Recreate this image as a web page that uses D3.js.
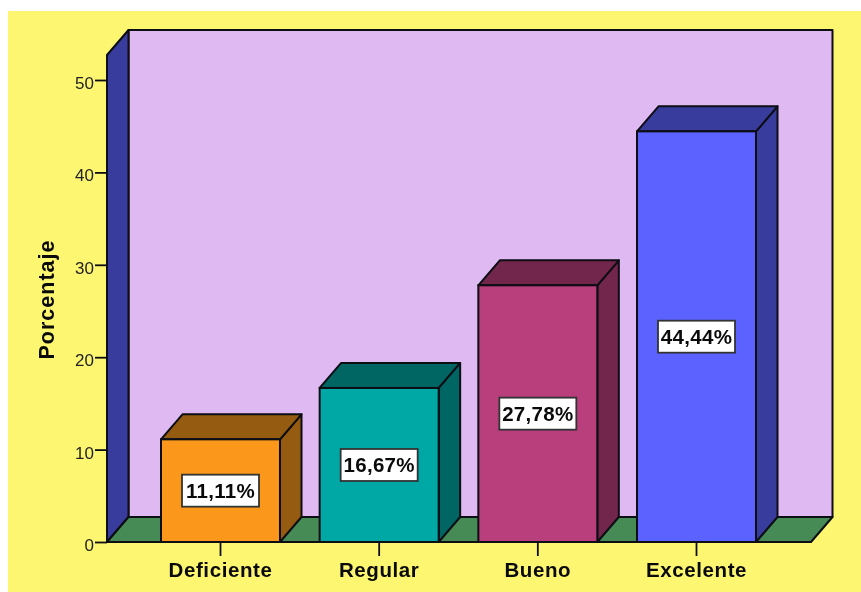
<!DOCTYPE html>
<html><head><meta charset="utf-8">
<script src="https://cdn.jsdelivr.net/npm/d3@7"></script>
<style>html,body{margin:0;padding:0;background:#fff}svg{display:block;filter:blur(0.5px)}text{font-family:"Liberation Sans",Arial,sans-serif}</style>
</head><body><svg id="c" width="861" height="592"></svg>
<script>
const categories = ["Deficiente","Regular","Bueno","Excelente"];
const values = [11.11,16.67,27.78,44.44];
const valueLabels = ["11,11%","16,67%","27,78%","44,44%"];
const frontColors = ["#fb981b","#00a8a5","#b83e7c","#5c62ff"];
const sideColors = ["#955c11","#006663","#72264c","#383c9c"];
const yTicks = [0,10,20,30,40,50];
const svg = d3.select("#c");
const W=861,H=592, dx=21.5, dy=25;
const y = d3.scaleLinear().domain([0,50]).range([542,80]);
const x = d3.scaleBand().domain(categories).range([161,756]).paddingInner(0.25);
const ink="#0d0d14";
const poly=(pts,fill,sw=2)=>svg.append("path").attr("d",d3.line()(pts)+"Z").attr("fill",fill).attr("stroke",ink).attr("stroke-width",sw).attr("stroke-linejoin","round");
svg.append("rect").attr("x",8).attr("y",11).attr("width",W-8).attr("height",H-11).attr("fill","#fdf671");
const x0=107,x1=811,yTop=55,y0=y(0);
poly([[x0+dx,yTop-dy],[x1+dx,yTop-dy],[x1+dx,y0-dy],[x0+dx,y0-dy]],"#deb9f2");
poly([[x0,yTop],[x0+dx,yTop-dy],[x0+dx,y0-dy],[x0,y0]],"#383c9c");
poly([[x0,y0],[x0+dx,y0-dy],[x1+dx,y0-dy],[x1,y0]],"#468a56");
categories.forEach((c,i)=>{
  const l=x(c),r=l+x.bandwidth(),t=y(values[i]),b=y0;
  poly([[r,t],[r+dx,t-dy],[r+dx,b-dy],[r,b]],sideColors[i]);
  poly([[l,t],[l+dx,t-dy],[r+dx,t-dy],[r,t]],sideColors[i]);
  svg.append("rect").attr("x",l).attr("y",t).attr("width",x.bandwidth()).attr("height",b-t).attr("fill",frontColors[i]).attr("stroke",ink).attr("stroke-width",2);
  const cx=l+x.bandwidth()/2, cy=(t+b)/2;
  svg.append("rect").attr("x",cx-38.5).attr("y",cy-16).attr("width",77).attr("height",32).attr("fill","#fff").attr("stroke","#333").attr("stroke-width",1.8);
  svg.append("text").attr("x",cx).attr("y",cy+7.5).attr("text-anchor","middle").attr("font-size",20.5).attr("letter-spacing","0.3px").attr("font-weight","bold").attr("fill","#0a0a0a").text(valueLabels[i]);
});
const ay=svg.append("g").attr("transform",`translate(${x0},0)`).call(d3.axisLeft(y).tickValues(yTicks).tickSize(12).tickPadding(1).tickFormat(d3.format("d")));
ay.select(".domain").remove();
ay.selectAll("line").attr("stroke",ink).attr("stroke-width",1.8);
ay.selectAll("text").attr("font-size",17).attr("fill","#222").attr("dy","0.5em").attr("style","font-family:'Liberation Sans'");
const ax=svg.append("g").attr("transform",`translate(0,${y0})`).call(d3.axisBottom(x).tickSize(14).tickPadding(6));
ax.select(".domain").remove();
ax.selectAll("line").attr("stroke",ink).attr("stroke-width",1.8);
ax.selectAll("text").attr("font-size",20.5).attr("font-weight","bold").attr("fill","#0a0a0a").attr("letter-spacing","0.6px").attr("style","font-family:'Liberation Sans'");
svg.append("text").attr("transform","translate(53.5,299.5) rotate(-90)").attr("text-anchor","middle").attr("font-size",21.5).attr("letter-spacing","1px").attr("font-weight","bold").attr("fill","#0a0a0a").text("Porcentaje");
</script></body></html>
